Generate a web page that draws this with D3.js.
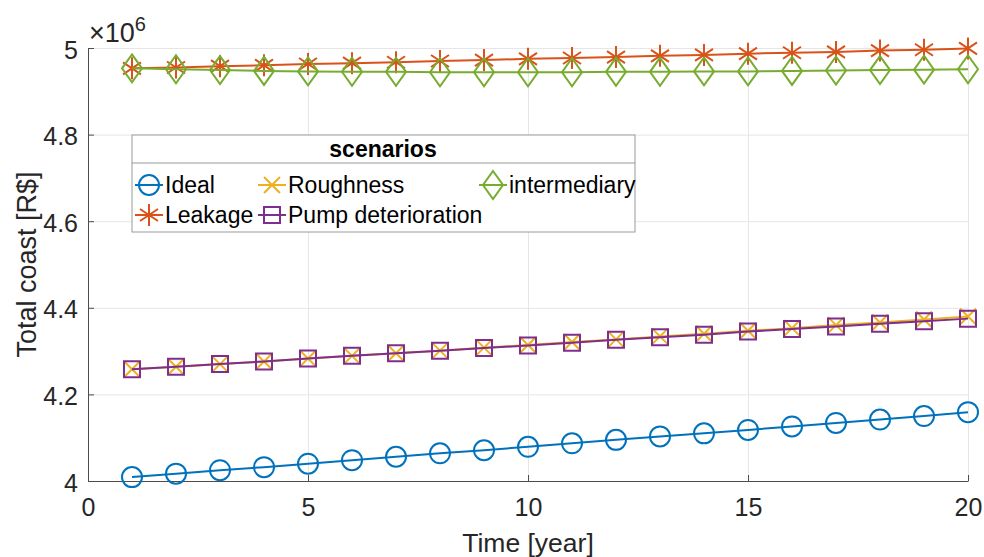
<!DOCTYPE html>
<html>
<head>
<meta charset="utf-8">
<script src="https://cdn.jsdelivr.net/npm/d3@7"></script>
<style>
  body { margin: 0; background: #fff; }
  svg { font-family: "Liberation Sans", Arial, sans-serif; }
</style>
</head>
<body>
<div id="chart"></div>
<script>
// years on the x axis
const years = d3.range(1, 21);

// total cost per scenario, in millions of R$ (axis shows x10^6)
const ideal = [4.009, 4.017, 4.025, 4.032, 4.040, 4.048, 4.056, 4.064, 4.071, 4.079,
               4.087, 4.095, 4.103, 4.110, 4.118, 4.126, 4.134, 4.142, 4.150, 4.159];
const leakage = [4.953, 4.955, 4.958, 4.960, 4.963, 4.965, 4.967, 4.970, 4.972, 4.975,
                 4.977, 4.979, 4.982, 4.984, 4.987, 4.989, 4.991, 4.994, 4.996, 4.999];
const roughness = [4.258, 4.264, 4.270, 4.276, 4.283, 4.289, 4.295, 4.301, 4.308, 4.314,
                   4.321, 4.327, 4.334, 4.340, 4.347, 4.353, 4.360, 4.366, 4.373, 4.380];
const pump = [4.258, 4.264, 4.270, 4.276, 4.283, 4.289, 4.295, 4.301, 4.307, 4.313,
              4.319, 4.326, 4.332, 4.338, 4.345, 4.351, 4.357, 4.363, 4.369, 4.375];
const intermediary = [4.953, 4.951, 4.949, 4.947, 4.946, 4.945, 4.945, 4.944, 4.944, 4.944,
                      4.944, 4.945, 4.945, 4.946, 4.946, 4.947, 4.948, 4.949, 4.950, 4.951];

const seriesNames = ["Ideal", "Leakage", "Roughness", "Pump deterioration", "intermediary"];
const seriesValues = [ideal, leakage, roughness, pump, intermediary];
const seriesColors = ["#0072BD", "#D95319", "#EDB120", "#7E2F8E", "#77AC30"];
const seriesMarkers = ["circle", "asterisk", "cross", "square", "diamond"];

const xTicks = [0, 5, 10, 15, 20];
const yTicks = [4, 4.2, 4.4, 4.6, 4.8, 5];

(() => {
  const width = 984, height = 557;
  const margin = { left: 88, right: 16, top: 48, bottom: 76 };
  const svg = d3.select("#chart").append("svg")
    .attr("width", width).attr("height", height);

  const x = d3.scaleLinear().domain([0, 20]).range([margin.left, width - margin.right]);
  const y = d3.scaleLinear().domain([4, 5]).range([height - margin.bottom, margin.top]);

  // marker shapes in MATLAB style
  const markerPath = (type) => {
    switch (type) {
      case "circle": return d3.symbol(d3.symbolCircle, Math.PI * 10 * 10)();
      case "square": return "M-8,-8H8V8H-8Z";
      case "diamond": return "M0,-14L10,0L0,14L-10,0Z";
      case "cross": return "M-8,-8L8,8M-8,8L8,-8";
      case "asterisk": return "M0,-11V11M-9,-6L9,6M-9,6L9,-6";
    }
  };

  // grid
  svg.append("g")
    .attr("transform", `translate(0,${height - margin.bottom})`)
    .call(d3.axisBottom(x).tickValues(xTicks).tickSize(-(height - margin.top - margin.bottom)).tickFormat(""))
    .call(g => g.select(".domain").remove())
    .call(g => g.selectAll("line").attr("stroke", "#e6e6e6"));
  svg.append("g")
    .attr("transform", `translate(${margin.left},0)`)
    .call(d3.axisLeft(y).tickValues(yTicks).tickSize(-(width - margin.left - margin.right)).tickFormat(""))
    .call(g => g.select(".domain").remove())
    .call(g => g.selectAll("line").attr("stroke", "#e6e6e6"));

  // axes
  const xAxis = svg.append("g")
    .attr("transform", `translate(0,${height - margin.bottom})`)
    .call(d3.axisBottom(x).tickValues(xTicks).tickSizeInner(-6).tickSizeOuter(0).tickPadding(12));
  const yAxis = svg.append("g")
    .attr("transform", `translate(${margin.left},0)`)
    .call(d3.axisLeft(y).tickValues(yTicks).tickFormat(d => d3.format("~g")(d)).tickSizeInner(-6).tickSizeOuter(0).tickPadding(10));
  [xAxis, yAxis].forEach(a => {
    a.selectAll("path, line").attr("stroke", "#4d4d4d");
    a.selectAll("text").attr("fill", "#262626").style("font-size", "25px");
  });
  xAxis.selectAll("text").attr("dy", "0.9em");
  yAxis.selectAll("text").attr("dy", "0.4em");

  // exponent label
  const expo = svg.append("text")
    .attr("x", margin.left + 1).attr("y", 42)
    .attr("fill", "#262626").style("font-size", "27px");
  expo.append("tspan").text("×10");
  expo.append("tspan").attr("dy", -11).style("font-size", "20px").text("6");

  // axis labels
  svg.append("text")
    .attr("x", x(10)).attr("y", 552)
    .attr("text-anchor", "middle").attr("fill", "#262626")
    .style("font-size", "26.5px").text("Time [year]");
  svg.append("text")
    .attr("transform", `translate(36,${y(4.5)}) rotate(-90)`)
    .attr("text-anchor", "middle").attr("fill", "#262626")
    .style("font-size", "27px").text("Total coast [R$]");

  // series
  const line = d3.line().x((d, i) => x(years[i])).y(d => y(d));
  seriesValues.forEach((vals, s) => {
    const g = svg.append("g");
    g.append("path")
      .attr("d", line(vals))
      .attr("fill", "none")
      .attr("stroke", seriesColors[s])
      .attr("stroke-width", 2);
    g.selectAll("path.marker")
      .data(vals)
      .enter().append("path")
      .attr("class", "marker")
      .attr("d", markerPath(seriesMarkers[s]))
      .attr("transform", (d, i) => `translate(${x(years[i])},${y(d)})`)
      .attr("fill", "none")
      .attr("stroke", seriesColors[s])
      .attr("stroke-width", 2);
  });

  // legend
  const lg = svg.append("g").attr("transform", "translate(132,135)");
  lg.append("rect")
    .attr("width", 503).attr("height", 97)
    .attr("fill", "#fff").attr("stroke", "#999").attr("stroke-width", 1);
  lg.append("line")
    .attr("x1", 0).attr("x2", 503).attr("y1", 28).attr("y2", 28)
    .attr("stroke", "#999");
  lg.append("text")
    .attr("x", 251).attr("y", 22)
    .attr("text-anchor", "middle").style("font-size", "23px").style("font-weight", "bold")
    .attr("fill", "#000").text("scenarios");

  // MATLAB fills legend column by column, 2 rows
  const colX = [17, 140, 361];
  const rowY = [50, 80];
  seriesNames.forEach((name, s) => {
    const col = Math.floor(s / 2), row = s % 2;
    const item = lg.append("g").attr("transform", `translate(${colX[col]},${rowY[row]})`);
    item.append("line")
      .attr("x1", -14).attr("x2", 14)
      .attr("stroke", seriesColors[s]).attr("stroke-width", 2);
    item.append("path")
      .attr("d", markerPath(seriesMarkers[s]))
      .attr("fill", "none").attr("stroke", seriesColors[s]).attr("stroke-width", 2);
    item.append("text")
      .attr("x", 16).attr("dy", "0.36em")
      .style("font-size", "23px").attr("fill", "#000")
      .text(name);
  });
})();
</script>
</body>
</html>
